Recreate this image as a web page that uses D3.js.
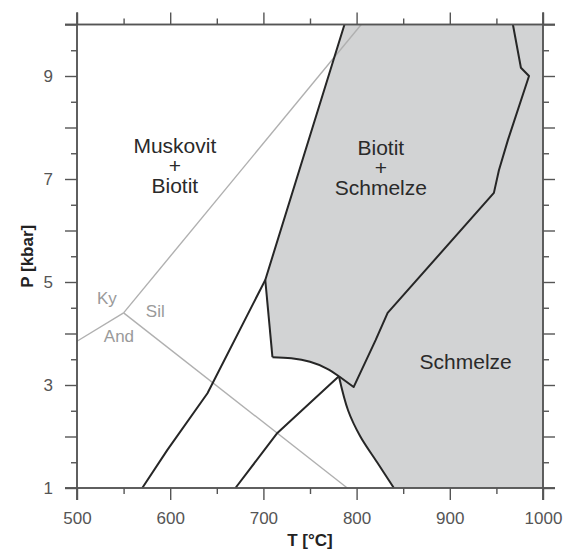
<!DOCTYPE html>
<html>
<head>
<meta charset="utf-8">
<script src="https://cdn.jsdelivr.net/npm/d3@7"></script>
<style>
  body { margin: 0; background: #fff; }
  svg { display: block; font-family: "Liberation Sans", Arial, sans-serif; }
</style>
</head>
<body>
<svg></svg>
<script>
// phase diagram data, [T in °C, P in kbar]
const kyAnd = [[500, 3.85], [550, 4.4]];
const kySil = [[550, 4.4], [805, 10]];
const andSil = [[550, 4.4], [790, 1]];

// muscovite breakdown, continues as biotite + melt boundary
const lineA = [[570, 1], [597, 1.74], [640, 2.84], [702, 5.04], [787, 10]];
const lineB1 = [[702, 5.04], [709.7, 3.54]];
const lineB2 = [[709.7, 3.54], [730, 3.52], [750, 3.45], [768, 3.32], [781, 3.17]];
const lineC = [[670, 1], [715, 2.07], [781, 3.17]];
const lineD = [[781, 3.17], [791, 2.5], [804, 2.0], [822, 1.5], [840, 1]];
const lineE = [[781, 3.17], [796.8, 2.96], [820.4, 3.87], [833.3, 4.4], [947.3, 6.73],
               [952.7, 7.17], [962.4, 7.76], [985, 9.0], [976.3, 9.16], [967.7, 10]];

const tLabels = [500, 600, 700, 800, 900, 1000];
const pLabels = [1, 3, 5, 7, 9];
const tMajor = [500, 600, 700, 800, 900, 1000];
const tMinor = [550, 650, 750, 850, 950];
const pMajor = [1, 2, 3, 4, 5, 6, 7, 8, 9, 10];
const pMinor = [1.5, 2.5, 3.5, 4.5, 5.5, 6.5, 7.5, 8.5, 9.5];

// field names [text lines, T, P]
const fieldLabels = [
  [["Muskovit", "+", "Biotit"], 605, 7.27],
  [["Biotit", "+", "Schmelze"], 826, 7.23],
  [["Schmelze"], 917, 3.45]
];
const mineralLabels = [["Ky", 532, 4.69], ["Sil", 584, 4.44], ["And", 545, 3.95]];

let width = 572, height = 551;
let margin = { top: 24.5, right: 29, bottom: 63, left: 77 };

let svg = d3.select("svg")
    .attr("width", width)
    .attr("height", height);

let x = d3.scaleLinear().domain([500, 1000]).range([margin.left, width - margin.right]);
let y = d3.scaleLinear().domain([1, 10]).range([height - margin.bottom, margin.top]);

let line = d3.line().x(d => x(d[0])).y(d => y(d[1]));
let smooth = d3.line().x(d => x(d[0])).y(d => y(d[1])).curve(d3.curveCatmullRom);

// shaded melt field
let fieldPts = lineA.slice(3)
    .concat([[1000, 10], [1000, 1]])
    .concat(lineD.slice().reverse())
    .concat(lineB2.slice().reverse())
    .concat([lineB1[0]]);
svg.append("path")
    .attr("d", line(fieldPts) + "Z")
    .attr("fill", "#d2d3d4");

// Al2SiO5 triple point lines
[kyAnd, kySil, andSil].forEach(d => {
    svg.append("path")
        .attr("d", line(d))
        .attr("fill", "none")
        .attr("stroke", "#b0b0b0")
        .attr("stroke-width", 1.4);
});

// reaction curves
let curves = [[lineA, line], [lineB1, line], [lineB2, smooth], [lineC, line], [lineD, smooth], [lineE, line]];
curves.forEach(c => {
    svg.append("path")
        .attr("d", c[1](c[0]))
        .attr("fill", "none")
        .attr("stroke", "#262626")
        .attr("stroke-width", 2)
        .attr("stroke-linejoin", "round");
});

// axes
function styleAxis(g) {
    g.selectAll("line").attr("stroke", "#555").attr("stroke-width", 1.4);
    g.selectAll("text").attr("fill", "#555").attr("font-size", "17px")
        .attr("font-family", "'Liberation Sans', Arial, sans-serif");
}
function addAxis(axisFn, tx, ty, ticks, size, fmt, domainD) {
    let g = svg.append("g")
        .attr("transform", "translate(" + tx + "," + ty + ")")
        .call(axisFn.tickValues(ticks).tickSize(size).tickSizeOuter(0).tickPadding(12).tickFormat(fmt));
    g.select(".domain").attr("d", domainD).attr("stroke", "#555").attr("stroke-width", 1.5);
    styleAxis(g);
    return g;
}
let noLabel = () => "";
let hD = "M" + (x(500) - 12) + ",0H" + (x(1000) + 12);
let vD = "M0," + (y(10) - 12) + "V" + (y(1) + 12);

addAxis(d3.axisBottom(x), 0, y(1), tMinor, 6, noLabel, hD);
addAxis(d3.axisBottom(x), 0, y(1), tMajor, 12, d => tLabels.includes(d) ? d : "", hD);
addAxis(d3.axisTop(x), 0, y(10), tMinor, 6, noLabel, hD);
addAxis(d3.axisTop(x), 0, y(10), tMajor, 12, noLabel, hD);
addAxis(d3.axisLeft(y), x(500), 0, pMinor, 6, noLabel, vD);
addAxis(d3.axisLeft(y), x(500), 0, pMajor, 12, d => pLabels.includes(d) ? d : "", vD);
addAxis(d3.axisRight(y), x(1000), 0, pMinor, 6, noLabel, vD);
addAxis(d3.axisRight(y), x(1000), 0, pMajor, 12, noLabel, vD);

// axis titles
svg.append("text")
    .attr("x", (x(500) + x(1000)) / 2)
    .attr("y", 546)
    .attr("text-anchor", "middle")
    .attr("font-size", "17px")
    .attr("font-weight", "bold")
    .attr("fill", "#222")
    .text("T [°C]");

svg.append("text")
    .attr("transform", "translate(33," + (y(1) + y(10)) / 2 + ") rotate(-90)")
    .attr("text-anchor", "middle")
    .attr("font-size", "17px")
    .attr("font-weight", "bold")
    .attr("fill", "#222")
    .text("P [kbar]");

// field labels
fieldLabels.forEach(f => {
    let lines = f[0];
    let t = svg.append("text")
        .attr("text-anchor", "middle")
        .attr("font-size", "21px")
        .attr("fill", "#2a2a2a");
    let mid = (lines.length - 1) / 2;
    lines.forEach((s, i) => {
        t.append("tspan")
            .attr("x", x(f[1]))
            .attr("y", y(f[2]) + (i - mid) * 20 + 7.5)
            .text(s);
    });
});

mineralLabels.forEach(m => {
    svg.append("text")
        .attr("x", x(m[1]))
        .attr("y", y(m[2]) + 6)
        .attr("text-anchor", "middle")
        .attr("font-size", "17px")
        .attr("fill", "#9a9a9a")
        .text(m[0]);
});
</script>
</body>
</html>
